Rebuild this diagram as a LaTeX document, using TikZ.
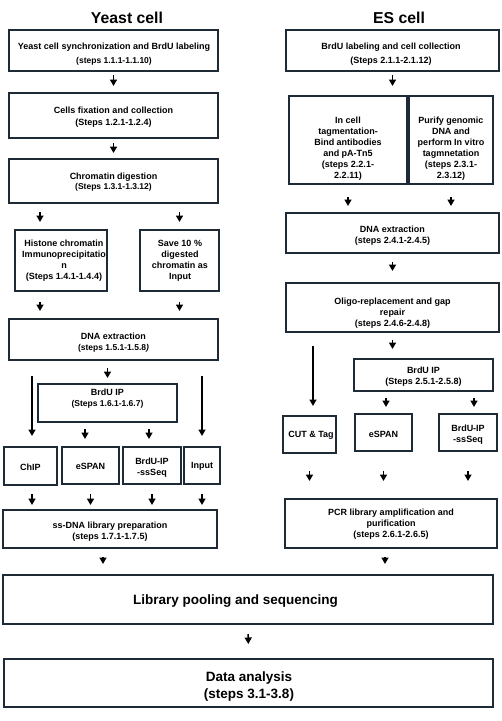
\documentclass[tikz,border=0pt]{standalone}
\usepackage{fontspec}
\setmainfont{Liberation Sans}
\usetikzlibrary{arrows.meta}
\definecolor{bcol}{HTML}{1F2A37}
\newcommand\stp{\fontsize{8.5}{11}\selectfont}
\begin{document}
\begin{tikzpicture}[x=1pt,y=-1pt,
  box/.style={draw=bcol, line width=2pt, inner sep=0pt},
  txt/.style={align=center, inner sep=0pt, font=\fontsize{9}{11}\selectfont\bfseries},
  big/.style={align=center, inner sep=0pt, font=\fontsize{13.5}{17}\selectfont\bfseries},
  ttl/.style={inner sep=0pt, font=\fontsize{15.8}{18}\selectfont\bfseries},
  arr/.style={line width=1.5pt, black, -{Triangle[length=6.5pt,width=7pt]}}]
\fill[white] (0,0) rectangle (502,721);
\useasboundingbox (0,0) rectangle (502,721);
% titles
\node[ttl] (ty) at (127,18) {Yeast cell};
\node[ttl] (te) at (399,18) {ES cell};
% left boxes
\node[box, minimum width=209, minimum height=41] (b1) at (113.5,50.5) {};
\node[box, minimum width=209, minimum height=45] (b2) at (113.5,115.5) {};
\node[box, minimum width=209, minimum height=44] (b3) at (113.5,181) {};
\node[box, minimum width=92, minimum height=61] (h) at (61,260.5) {};
\node[box, minimum width=79, minimum height=61] (s) at (179.5,260.5) {};
\node[box, minimum width=209, minimum height=41] (d) at (113.5,339.5) {};
\node[box, minimum width=139, minimum height=38] (ip) at (107.5,403) {};
\node[box, minimum width=53, minimum height=38] (chip) at (30.5,466) {};
\node[box, minimum width=57, minimum height=37] (le) at (90.5,465.5) {};
\node[box, minimum width=58, minimum height=37] (lb) at (152,465.5) {};
\node[box, minimum width=36, minimum height=37] (inp) at (202,465.5) {};
\node[box, minimum width=214, minimum height=38] (ss) at (110,529) {};
% right boxes
\node[box, minimum width=213, minimum height=41] (r1) at (392.5,50.5) {};
\node[box, minimum width=118, minimum height=88] (ic) at (348,140) {};
\node[box, minimum width=84, minimum height=88] (pu) at (451,140) {};
\node[box, minimum width=213, minimum height=40] (rd) at (392.5,233) {};
\node[box, minimum width=213, minimum height=49] (ol) at (392.5,307.5) {};
\node[box, minimum width=139, minimum height=32] (rip) at (423.5,375) {};
\node[box, minimum width=53, minimum height=37] (cut) at (309.5,434.5) {};
\node[box, minimum width=57, minimum height=37] (re) at (383.5,432.5) {};
\node[box, minimum width=58, minimum height=37] (rb) at (468,432.5) {};
\node[box, minimum width=212, minimum height=49] (pcr) at (391,523.5) {};
% bottom boxes
\node[box, minimum width=490, minimum height=49] (lib) at (248,599.5) {};
\node[box, minimum width=489, minimum height=48] (data) at (248.5,683) {};
% texts left
\node[txt] (t1) at (114,54.5) {Yeast cell synchronization and BrdU labeling\\[3pt]{\stp (steps 1.1.1-1.1.10)}};
\node[txt] (t2) at (113.5,117.5) {Cells fixation and collection\\[1pt](Steps 1.2.1-1.2.4)};
\node[txt] (t3) at (113.5,182) {Chromatin digestion\\[-1.5pt]{\stp (Steps 1.3.1-1.3.12)}};
\node[txt] (th) at (64,261) {Histone chromatin\\Immunoprecipitatio\\n\\(Steps 1.4.1-1.4.4)};
\node[txt] (ts) at (180,261) {Save 10 \%\\digested\\chromatin as\\Input};
\node[txt] (td) at (113.5,343) {DNA extraction\\{\stp (steps 1.5.1-1.5.8\textit{)}}};
\node[txt] (tip) at (107.5,399) {BrdU IP\\{\stp (Steps 1.6.1-1.6.7)}};
\node[txt] (tchip) at (30.5,467) {ChIP};
\node[txt] (tle) at (90.5,466) {eSPAN};
\node[txt] (tlb) at (152,468) {BrdU-IP\\-ssSeq};
\node[txt] (tinp) at (202,466) {Input};
\node[txt] (tss) at (110,532) {ss-DNA library preparation\\(steps 1.7.1-1.7.5)};
% texts right
\node[txt] (tr1) at (391,54.5) {BrdU labeling and cell collection\\[3pt](Steps 2.1.1-2.1.12)};
\node[txt] (tic) at (348,148.5) {In cell\\tagmentation-\\Bind antibodies\\and pA-Tn5\\(steps 2.2.1-\\2.2.11)};
\node[txt] (tpu) at (451,148.5) {Purify genomic\\DNA and\\perform In vitro\\tagmnetation\\(steps 2.3.1-\\2.3.12)};
\node[txt] (trd) at (392.5,236) {DNA extraction\\(steps 2.4.1-2.4.5)};
\node[txt] (tol) at (392.5,313) {Oligo-replacement and gap\\repair\\(steps 2.4.6-2.4.8)};
\node[txt] (trip) at (423.5,377) {BrdU IP\\(Steps 2.5.1-2.5.8)};
\node[txt] (tcut) at (311,435) {CUT \& Tag};
\node[txt] (tre) at (383.5,434) {eSPAN};
\node[txt] (trb) at (468,435) {BrdU-IP\\-ssSeq};
\node[txt] (tpcr) at (391,524.5) {PCR library amplification and\\purification\\(steps 2.6.1-2.6.5)};
% texts bottom
\node[big] (tlib) at (235.5,601) {Library pooling and sequencing};
\node[big] (tdata) at (249,686.5) {Data analysis\\(steps 3.1-3.8)};
% x positions of offset arrows
\coordinate (xa) at (40,0);
\coordinate (xb) at (85,0);
\coordinate (xc) at (149,0);
\coordinate (xd) at (313,0);
\coordinate (xe) at (386,0);
\coordinate (xf) at (474,0);
\coordinate (xg) at (385,0);
\coordinate (xh) at (103,0);
\coordinate (xi) at (32,0);
% left arrows
\draw[arr, shorten <=3pt, shorten >=6pt] (b1.south) -- (b2.north);
\draw[arr, shorten <=4pt, shorten >=5pt] (b2.south) -- (b3.north);
\draw[arr, shorten <=8pt, shorten >=7pt] (b3.south -| xa) -- (h.north -| xa);
\draw[arr, shorten <=8pt, shorten >=7pt] (b3.south -| s.north) -- (s.north);
\draw[arr, shorten <=10pt, shorten >=7pt] (h.south -| xa) -- (d.north -| xa);
\draw[arr, shorten <=10pt, shorten >=7pt] (s.south) -- (d.north -| s.south);
\draw[arr, shorten <=7pt, shorten >=5pt] (d.south -| ip.north) -- (ip.north);
\draw[arr, shorten <=15pt, shorten >=10pt] (d.south -| xi) -- (chip.north -| xi);
\draw[arr, shorten <=15pt, shorten >=10pt] (d.south -| inp.north) -- (inp.north);
\draw[arr, shorten <=6pt, shorten >=7pt] (ip.south -| xb) -- (le.north -| xb);
\draw[arr, shorten <=6pt, shorten >=7pt] (ip.south -| xc) -- (lb.north -| xc);
\draw[arr, shorten <=8pt, shorten >=4pt] (chip.south -| xi) -- (ss.north -| xi);
\draw[arr, shorten <=9pt, shorten >=4pt] (le.south) -- (ss.north -| le.south);
\draw[arr, shorten <=9pt, shorten >=4pt] (lb.south) -- (ss.north -| lb.south);
\draw[arr, shorten <=9pt, shorten >=4pt] (inp.south) -- (ss.north -| inp.south);
\draw[arr, shorten <=8pt, shorten >=10pt] (ss.south -| xh) -- (lib.north -| xh);
% right arrows
\draw[arr, shorten <=3pt, shorten >=9pt] (r1.south) -- (ic.north -| r1.south);
\draw[arr, shorten <=12pt, shorten >=6pt] (ic.south) -- (rd.north -| ic.south);
\draw[arr, shorten <=12pt, shorten >=6pt] (pu.south) -- (rd.north -| pu.south);
\draw[arr, shorten <=8pt, shorten >=11pt] (rd.south) -- (ol.north);
\draw[arr, shorten <=7pt, shorten >=9pt] (ol.south) -- (rip.north -| ol.south);
\draw[arr, shorten <=13pt, shorten >=9pt] (ol.south -| xd) -- (cut.north -| xd);
\draw[arr, shorten <=6pt, shorten >=6pt] (rip.south -| xe) -- (re.north -| xe);
\draw[arr, shorten <=6pt, shorten >=6pt] (rip.south -| xf) -- (rb.north -| xf);
\draw[arr, shorten <=17pt, shorten >=17pt] (cut.south) -- (pcr.north -| cut.south);
\draw[arr, shorten <=19pt, shorten >=17pt] (re.south) -- (pcr.north -| re.south);
\draw[arr, shorten <=19pt, shorten >=17pt] (rb.south) -- (pcr.north -| rb.south);
\draw[arr, shorten <=8pt, shorten >=10pt] (pcr.south -| xg) -- (lib.north -| xg);
% bottom arrow
\draw[arr, shorten <=9pt, shorten >=14pt] (lib.south) -- (data.north);
\end{tikzpicture}
\end{document}
